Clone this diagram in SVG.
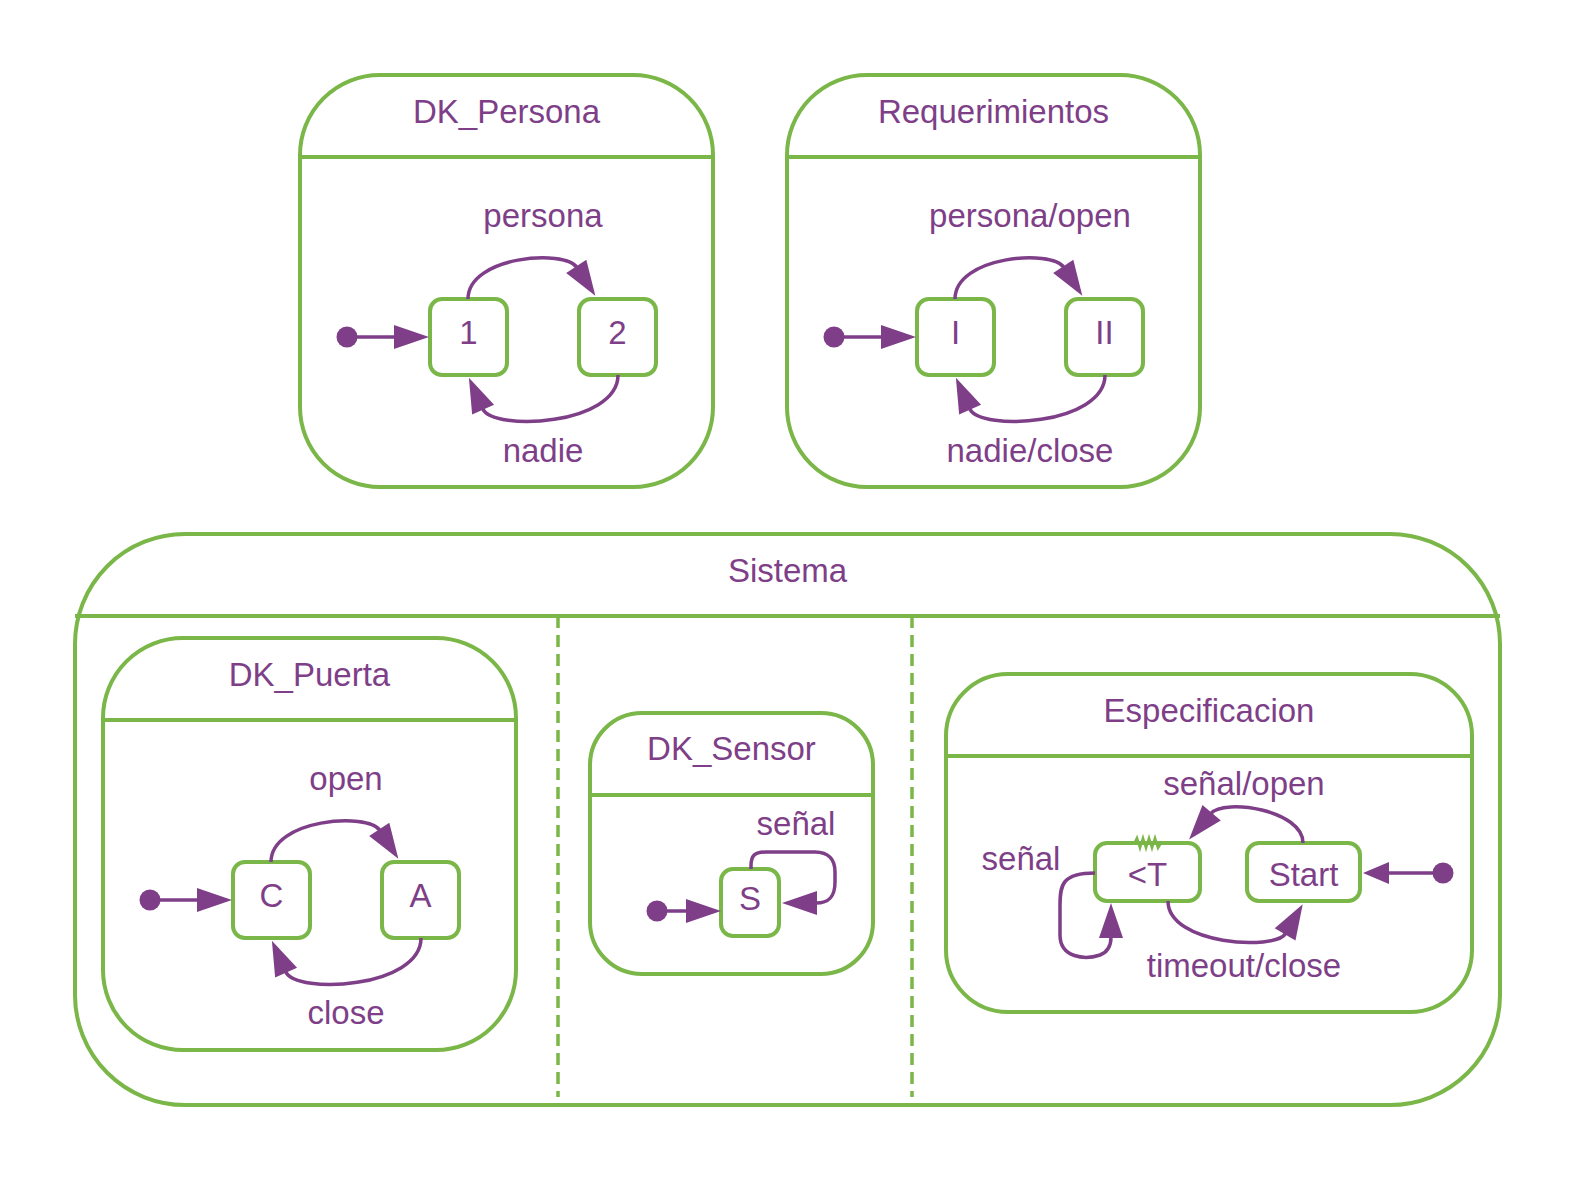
<svg xmlns="http://www.w3.org/2000/svg" width="1575" height="1181" viewBox="0 0 1575 1181">
<style>
.box{fill:#fff;stroke:#7AB648;stroke-width:4}
.hdr{stroke:#7AB648;stroke-width:4;fill:none}
.node{fill:#fff;stroke:#7AB648;stroke-width:4}
.t{font-family:"Liberation Sans",Arial,sans-serif;font-size:33px;fill:#7E3F88;text-anchor:middle}
.nt{font-family:"Liberation Sans",Arial,sans-serif;font-size:33px;fill:#7E3F88;text-anchor:middle}
.c{fill:none;stroke:#7E3F88;stroke-width:3.5;marker-end:url(#arr)}
.cs{fill:none;stroke:#7E3F88;stroke-width:3.5;marker-end:url(#arrS)}
.dot{fill:#7E3F88}
.dash{stroke:#7AB648;stroke-width:3.5;stroke-dasharray:12 7;fill:none}
</style>
<defs>
<marker id="arr" markerUnits="userSpaceOnUse" markerWidth="35" markerHeight="24" viewBox="0 0 35 24" refX="1" refY="12" orient="auto" overflow="visible"><path d="M0,0 L35,12 L0,24 z" fill="#7E3F88"/></marker>
<marker id="arrS" markerUnits="userSpaceOnUse" markerWidth="26" markerHeight="22" viewBox="0 0 26 22" refX="1" refY="11" orient="auto" overflow="visible"><path d="M0,0 L26,11 L0,22 z" fill="#7E3F88"/></marker>
</defs>
<rect width="1575" height="1181" fill="#fff"/>

<g id="c-dkpersona">
<rect class="box" x="300" y="75" width="413" height="412" rx="80"/>
<line class="hdr" x1="300" y1="157" x2="713" y2="157"/>
<text class="t" x="506.5" y="123">DK_Persona</text>
</g>
<g id="c-requerimientos">
<rect class="box" x="787" y="75" width="413" height="412" rx="80"/>
<line class="hdr" x1="787" y1="157" x2="1200" y2="157"/>
<text class="t" x="993.5" y="123">Requerimientos</text>
</g>
<g id="c-sistema">
<rect class="box" x="75" y="534" width="1425" height="571" rx="110"/>
<line class="hdr" x1="75" y1="616" x2="1500" y2="616"/>
<text class="t" x="787.5" y="582">Sistema</text>
<line class="dash" x1="558" y1="616" x2="558" y2="1097"/>
<line class="dash" x1="912" y1="616" x2="912" y2="1097"/>
</g>
<g id="c-dkpuerta">
<rect class="box" x="103" y="638" width="413" height="412" rx="80"/>
<line class="hdr" x1="103" y1="720" x2="516" y2="720"/>
<text class="t" x="309.5" y="686">DK_Puerta</text>
</g>
<g id="c-dksensor">
<rect class="box" x="590" y="713" width="283" height="261" rx="52"/>
<line class="hdr" x1="590" y1="795" x2="873" y2="795"/>
<text class="t" x="731.5" y="760">DK_Sensor</text>
</g>
<g id="c-especificacion">
<rect class="box" x="946" y="674" width="526" height="338" rx="62"/>
<line class="hdr" x1="946" y1="756" x2="1472" y2="756"/>
<text class="t" x="1209" y="722">Especificacion</text>
</g>

<g id="n-1"><rect class="node" x="430" y="299" width="77" height="76" rx="12"/><text class="nt" x="468.5" y="344">1</text></g>
<g id="n-2"><rect class="node" x="579" y="299" width="77" height="76" rx="12"/><text class="nt" x="617.5" y="344">2</text></g>
<g id="n-I"><rect class="node" x="917" y="299" width="77" height="76" rx="12"/><text class="nt" x="955.5" y="344">I</text></g>
<g id="n-II"><rect class="node" x="1066" y="299" width="77" height="76" rx="12"/><text class="nt" x="1104.5" y="344">II</text></g>
<g id="n-C"><rect class="node" x="233" y="862" width="77" height="76" rx="12"/><text class="nt" x="271.5" y="907">C</text></g>
<g id="n-A"><rect class="node" x="382" y="862" width="77" height="76" rx="12"/><text class="nt" x="420.5" y="907">A</text></g>
<g id="n-S"><rect class="node" x="721" y="869" width="58" height="67" rx="12"/><text class="nt" x="750" y="910">S</text></g>
<g id="n-T"><rect class="node" x="1095" y="843" width="105" height="58" rx="12"/><polyline points="1134,844 1137,838 1140,848 1143,838 1146,848 1149,838 1152,848 1155,838 1158,848 1161,843" fill="none" stroke="#7AB648" stroke-width="2.5"/><text class="nt" x="1147.5" y="886">&lt;T</text></g>
<g id="n-Start"><rect class="node" x="1247" y="843" width="113" height="58" rx="12"/><text class="nt" x="1303.5" y="886">Start</text></g>

<g id="init-persona"><circle class="dot" cx="347" cy="337" r="10.5"/></g>
<g id="init-req"><circle class="dot" cx="834" cy="337" r="10.5"/></g>
<g id="init-puerta"><circle class="dot" cx="150" cy="900" r="10.5"/></g>
<g id="init-sensor"><circle class="dot" cx="657" cy="911" r="10.5"/></g>
<g id="init-espec"><circle class="dot" cx="1443" cy="873" r="10.5"/></g>

<g id="connectors">
<path class="c" d="M347,337 L395,337"/>
<path class="c" d="M468,299 C468,256 565,249 576.8,267.2"/>
<path class="c" d="M618,375 C618,425 493,432 482.7,408.8"/>
<path class="c" d="M834,337 L882,337"/>
<path class="c" d="M955,299 C955,256 1052,249 1063.8,267.2"/>
<path class="c" d="M1105,375 C1105,425 980,432 969.7,408.8"/>
<path class="c" d="M150,900 L198,900"/>
<path class="c" d="M271,862 C271,819 368,812 379.8,830.2"/>
<path class="c" d="M421,938 C421,988 296,995 285.7,971.8"/>
<path class="c" d="M657,911 L687,911"/>
<path class="c" d="M751,869 L751,866 C751,855 755,852 766,852 L815,852 C829,852 835,860 835,872 L835,882 C835,897 829,903 816,903"/>
<path class="cs" d="M1443,873 L1388,873"/>
<path class="c" d="M1303,843 C1303,810 1224,798 1211,813.4"/>
<path class="c" d="M1168,901 C1168,945 1275.5,950.8 1285.6,933.5"/>
<path class="c" d="M1095,873 C1062,873 1060,885 1060,905 L1060,935 C1060,958 1085,960 1100,955 C1108,952 1111,945 1111,937"/>
</g>

<g id="labels">
<text class="t" x="543" y="227">persona</text>
<text class="t" x="543" y="462">nadie</text>
<text class="t" x="1030" y="227">persona/open</text>
<text class="t" x="1030" y="462">nadie/close</text>
<text class="t" x="346" y="790">open</text>
<text class="t" x="346" y="1024">close</text>
<text class="t" x="796" y="835">señal</text>
<text class="t" x="1244" y="795">señal/open</text>
<text class="t" x="1021" y="870">señal</text>
<text class="t" x="1244" y="977">timeout/close</text>
</g>
</svg>
